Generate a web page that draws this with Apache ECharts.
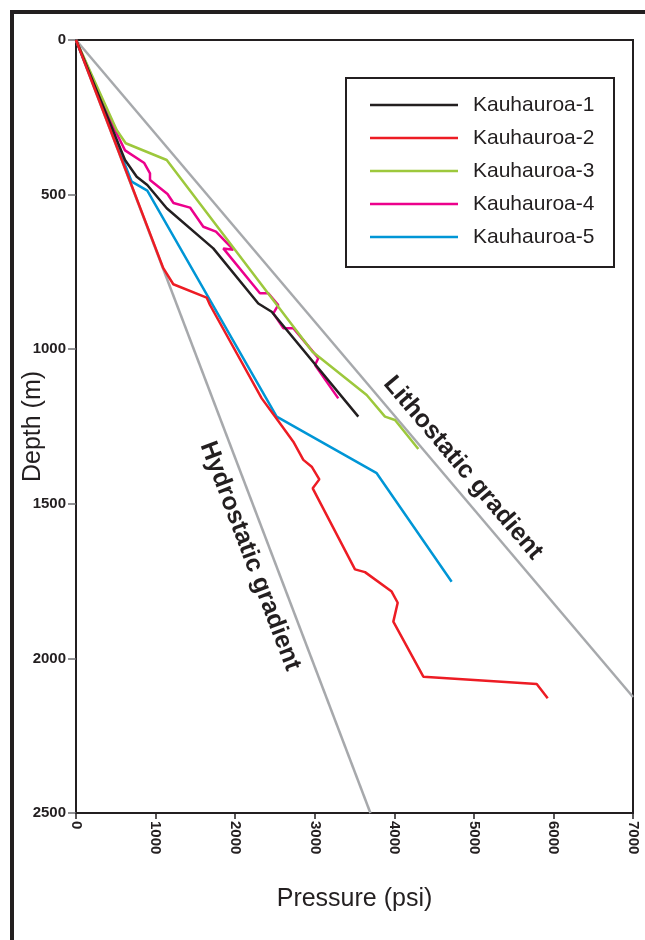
<!DOCTYPE html>
<html><head><meta charset="utf-8">
<script src="https://cdn.jsdelivr.net/npm/echarts@6/dist/echarts.min.js"></script>
<style>html,body{margin:0;padding:0;background:#fff}#c{width:645px;height:940px}</style>
</head><body><div id="c"></div>
<script>
// ---- data: [pressure (psi), depth (m)] ----
const seriesNames = ['Kauhauroa-1','Kauhauroa-2','Kauhauroa-3','Kauhauroa-4','Kauhauroa-5'];
const kauhauroa1 = [[0,0],[616,388],[763,442],[896,469],[1140,544],[1725,674],[2291,852],[2459,879],[3548,1218]];
const kauhauroa2 = [[0,0],[1097,738],[1223,790],[1642,833],[1684,857],[2334,1159],[2501,1218],[2731,1299],[2857,1358],[2962,1380],[3058,1421],[2975,1450],[3506,1712],[3632,1721],[3967,1784],[4043,1820],[3988,1881],[4365,2059],[5790,2083],[5928,2129]];
const kauhauroa3 = [[0,0],[511,291],[625,334],[1140,388],[2972,1008],[3653,1148],[3883,1218],[4009,1229],[4302,1323]];
const kauhauroa4 = [[0,0],[490,291],[616,357],[858,398],[930,431],[930,453],[1150,498],[1225,527],[1433,542],[1600,604],[1759,620],[1977,678],[1851,674],[2312,819],[2417,819],[2542,857],[2480,884],[2605,932],[2731,932],[3045,1029],[3004,1051],[3296,1159]];
const kauhauroa5 = [[0,0],[700,458],[896,487],[2522,1218],[3779,1401],[4721,1752]];
const hydrostatic = [[0,0],[3700,2500]];
const lithostatic = [[0,0],[7000,2125]];
const gradientLabels = ['Hydrostatic gradient','Lithostatic gradient'];
const gradientLabelAt = [[2187,1669],[4863,1384]];
const pressureRange = [0,7000,1000];
const depthRange = [0,2500,500];
const colors = ['#231f20','#ed1c24','#9dc83c','#ec008c','#0096d6'];

const FONT = '"Liberation Sans", Arial, Helvetica, sans-serif';
const INK = '#231f20';
const GRAY = '#a7a9ac';

const chart = echarts.init(document.getElementById('c'), null, {renderer:'canvas'});
const wells = [kauhauroa1,kauhauroa2,kauhauroa3,kauhauroa4,kauhauroa5];
function wellSeries(i, z){
  return {name: seriesNames[i], type:'line', data: wells[i], symbol:'none', showSymbol:false,
    lineStyle:{color: colors[i], width:2.5}, itemStyle:{color: colors[i]}, z: z, silent:true};
}
function gradSeries(name, data){
  return {name:name, type:'line', data:data, symbol:'none', lineStyle:{color:GRAY, width:2.5}, z:1, silent:true};
}
chart.setOption({
  animation:false,
  backgroundColor:'#fff',
  textStyle:{fontFamily:FONT},
  grid:{left:76, right:12, top:40, bottom:127, containLabel:false, outerBoundsMode:'none',
    show:true, borderColor:INK, borderWidth:2, backgroundColor:'transparent'},
  legend:{
    data: seriesNames, orient:'vertical', left:370, top:88.5, padding:0, itemGap:0,
    icon:'rect', itemWidth:88, itemHeight:2.5, selectedMode:false,
    textStyle:{fontSize:21, lineHeight:33, color:INK, fontFamily:FONT, padding:[0,0,0,10]}
  },
  xAxis:{
    type:'value', min:pressureRange[0], max:pressureRange[1], interval:pressureRange[2], position:'bottom',
    axisLine:{show:true, onZero:false, lineStyle:{color:INK, width:2}},
    axisTick:{show:true, length:6, lineStyle:{color:INK, width:1.5}},
    axisLabel:{rotate:-90, fontSize:15, fontWeight:'bold', color:INK, margin:8, fontFamily:FONT,
      formatter:(v)=>String(v)},
    splitLine:{show:false},
    name:'Pressure (psi)', nameLocation:'middle', nameGap:74, nameMoveOverlap:false,
    nameTextStyle:{fontSize:25, color:INK, fontFamily:FONT}
  },
  yAxis:{
    type:'value', inverse:true, min:depthRange[0], max:depthRange[1], interval:depthRange[2],
    axisLine:{show:true, onZero:false, lineStyle:{color:INK, width:2}},
    axisTick:{show:true, length:8, lineStyle:{color:'#6d6e71', width:1.5}},
    axisLabel:{fontSize:15, fontWeight:'bold', color:INK, margin:10, fontFamily:FONT,
      formatter:(v)=>String(v)},
    splitLine:{show:false},
    name:'Depth (m)', nameLocation:'middle', nameGap:30, nameRotate:90, nameMoveOverlap:false,
    nameTextStyle:{fontSize:25, color:INK, fontFamily:FONT}
  },
  series:[
    gradSeries('Hydrostatic', hydrostatic),
    gradSeries('Lithostatic', lithostatic),
    wellSeries(4, 3), wellSeries(3, 4), wellSeries(2, 5), wellSeries(0, 6), wellSeries(1, 7)
  ]
});

// annotations positioned from data coordinates
const gfx = [
  {type:'rect', shape:{x:10, y:10, width:4, height:930}, style:{fill:INK}, silent:true},
  {type:'rect', shape:{x:10, y:10, width:635, height:4}, style:{fill:INK}, silent:true},
  {type:'rect', shape:{x:346, y:78, width:268, height:189}, style:{fill:'none', stroke:INK, lineWidth:2}, silent:true, z:-1}
];
[hydrostatic, lithostatic].forEach((line, k)=>{
  const a = chart.convertToPixel({gridIndex:0}, line[0]);
  const b = chart.convertToPixel({gridIndex:0}, line[1]);
  const ang = Math.atan2(b[1]-a[1], b[0]-a[0]);
  const p = chart.convertToPixel({gridIndex:0}, gradientLabelAt[k]);
  gfx.push({type:'text', x:p[0], y:p[1], rotation:-ang, silent:true, z:10,
    style:{text:gradientLabels[k], fill:INK, font:'bold 25px ' + FONT, align:'center', verticalAlign:'middle'}});
});
chart.setOption({graphic:gfx});
</script>
</body></html>
